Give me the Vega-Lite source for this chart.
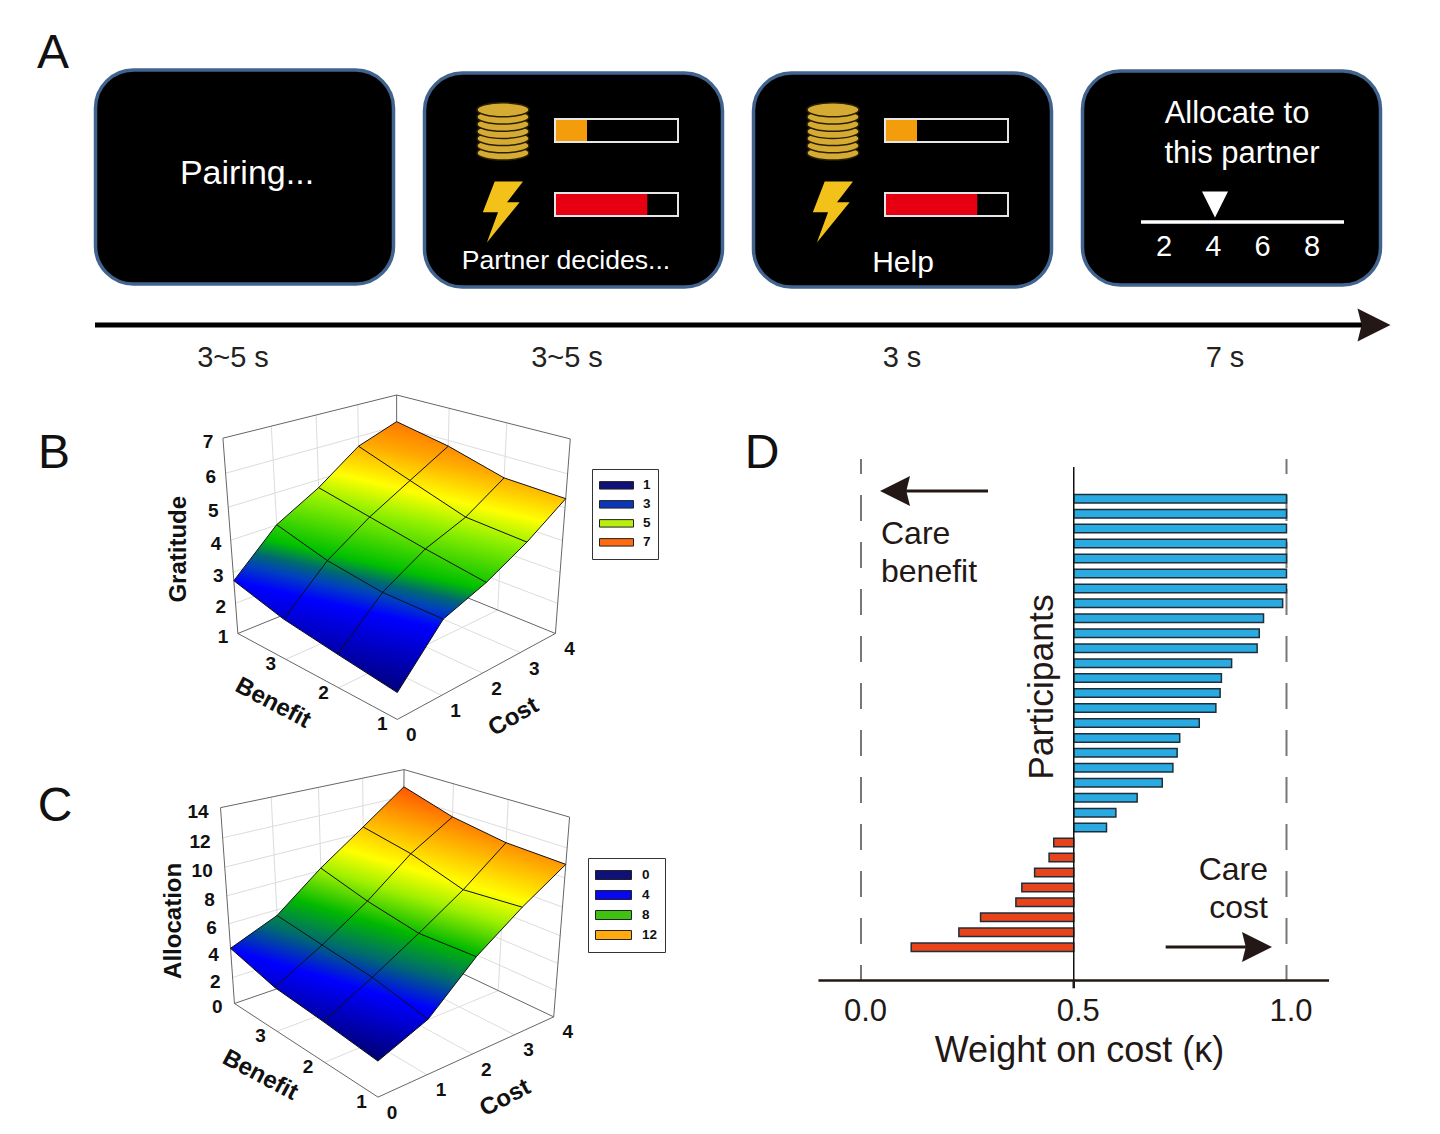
{"$schema":"https://vega.github.io/schema/vega-lite/v6.json","width":1440,"height":1134,"autosize":{"type":"fit","contains":"padding"},"padding":0,"background":"white","config":{"view":{"stroke":null},"text":{"font":"Liberation Sans"}},
"datasets":{
"screens":[{"stage":1,"duration":"3~5 s"},{"stage":2,"duration":"3~5 s"},{"stage":3,"duration":"3 s"},{"stage":4,"duration":"7 s"}],
"captions":[{"id":0,"caption":"Pairing..."},{"id":1,"caption":"Partner decides..."},{"id":2,"caption":"Help"},{"id":3,"caption":"Allocate to"},{"id":4,"caption":"this partner"}],
"slider":[{"allocation":2,"chosen":false},{"allocation":4,"chosen":true},{"allocation":6,"chosen":false},{"allocation":8,"chosen":false}],
"bars":[{"stage":2,"bar":"reward","value":0.26},{"stage":2,"bar":"cost","value":0.75},{"stage":3,"bar":"reward","value":0.26},{"stage":3,"bar":"cost","value":0.75}],
"coins":[{"stage":2,"coin":1},{"stage":2,"coin":2},{"stage":2,"coin":3},{"stage":2,"coin":4},{"stage":2,"coin":5},{"stage":2,"coin":6},{"stage":2,"coin":7},{"stage":3,"coin":1},{"stage":3,"coin":2},{"stage":3,"coin":3},{"stage":3,"coin":4},{"stage":3,"coin":5},{"stage":3,"coin":6},{"stage":3,"coin":7}],
"letters":[{"id":0,"panel":"A"},{"id":1,"panel":"B"},{"id":2,"panel":"C"},{"id":3,"panel":"D"}],
"gratitude":[
{"benefit":1,"cost":0,"gratitude":1.80},{"benefit":1,"cost":1,"gratitude":3.28},{"benefit":1,"cost":2,"gratitude":3.77},{"benefit":1,"cost":3,"gratitude":4.44},{"benefit":1,"cost":4,"gratitude":5.27},
{"benefit":2,"cost":0,"gratitude":2.03},{"benefit":2,"cost":1,"gratitude":3.29},{"benefit":2,"cost":2,"gratitude":4.07},{"benefit":2,"cost":3,"gratitude":4.56},{"benefit":2,"cost":4,"gratitude":5.34},
{"benefit":3,"cost":0,"gratitude":2.28},{"benefit":3,"cost":1,"gratitude":3.54},{"benefit":3,"cost":2,"gratitude":4.41},{"benefit":3,"cost":3,"gratitude":5.12},{"benefit":3,"cost":4,"gratitude":5.82},
{"benefit":4,"cost":0,"gratitude":2.73},{"benefit":4,"cost":1,"gratitude":4.01},{"benefit":4,"cost":2,"gratitude":4.75},{"benefit":4,"cost":3,"gratitude":5.69},{"benefit":4,"cost":4,"gratitude":6.14}],
"allocation":[
{"benefit":1,"cost":0,"allocation":2.44},{"benefit":1,"cost":1,"allocation":3.83},{"benefit":1,"cost":2,"allocation":6.77},{"benefit":1,"cost":3,"allocation":8.99},{"benefit":1,"cost":4,"allocation":10.91},
{"benefit":2,"cost":0,"allocation":2.87},{"benefit":2,"cost":1,"allocation":4.66},{"benefit":2,"cost":2,"allocation":6.59},{"benefit":2,"cost":3,"allocation":8.63},{"benefit":2,"cost":4,"allocation":11.04},
{"benefit":3,"cost":0,"allocation":3.22},{"benefit":3,"cost":1,"allocation":5.11},{"benefit":3,"cost":2,"allocation":7.24},{"benefit":3,"cost":3,"allocation":9.76},{"benefit":3,"cost":4,"allocation":11.63},
{"benefit":4,"cost":0,"allocation":4.2},{"benefit":4,"cost":1,"allocation":5.58},{"benefit":4,"cost":2,"allocation":8.18},{"benefit":4,"cost":3,"allocation":10.43},{"benefit":4,"cost":4,"allocation":12.72}],
"boxB":[
{"kind":"grid","id":"z2","seq":0,"benefit":4,"cost":0,"level":2},{"kind":"grid","id":"z2","seq":1,"benefit":4,"cost":4,"level":2},{"kind":"grid","id":"z2","seq":2,"benefit":1,"cost":4,"level":2},
{"kind":"grid","id":"z3","seq":0,"benefit":4,"cost":0,"level":3},{"kind":"grid","id":"z3","seq":1,"benefit":4,"cost":4,"level":3},{"kind":"grid","id":"z3","seq":2,"benefit":1,"cost":4,"level":3},
{"kind":"grid","id":"z4","seq":0,"benefit":4,"cost":0,"level":4},{"kind":"grid","id":"z4","seq":1,"benefit":4,"cost":4,"level":4},{"kind":"grid","id":"z4","seq":2,"benefit":1,"cost":4,"level":4},
{"kind":"grid","id":"z5","seq":0,"benefit":4,"cost":0,"level":5},{"kind":"grid","id":"z5","seq":1,"benefit":4,"cost":4,"level":5},{"kind":"grid","id":"z5","seq":2,"benefit":1,"cost":4,"level":5},
{"kind":"grid","id":"z6","seq":0,"benefit":4,"cost":0,"level":6},{"kind":"grid","id":"z6","seq":1,"benefit":4,"cost":4,"level":6},{"kind":"grid","id":"z6","seq":2,"benefit":1,"cost":4,"level":6},
{"kind":"grid","id":"c1","seq":0,"benefit":1,"cost":1,"level":1},{"kind":"grid","id":"c1","seq":1,"benefit":4,"cost":1,"level":1},{"kind":"grid","id":"c1","seq":2,"benefit":4,"cost":1,"level":7},
{"kind":"grid","id":"c2","seq":0,"benefit":1,"cost":2,"level":1},{"kind":"grid","id":"c2","seq":1,"benefit":4,"cost":2,"level":1},{"kind":"grid","id":"c2","seq":2,"benefit":4,"cost":2,"level":7},
{"kind":"grid","id":"c3","seq":0,"benefit":1,"cost":3,"level":1},{"kind":"grid","id":"c3","seq":1,"benefit":4,"cost":3,"level":1},{"kind":"grid","id":"c3","seq":2,"benefit":4,"cost":3,"level":7},
{"kind":"grid","id":"b2","seq":0,"benefit":2,"cost":0,"level":1},{"kind":"grid","id":"b2","seq":1,"benefit":2,"cost":4,"level":1},{"kind":"grid","id":"b2","seq":2,"benefit":2,"cost":4,"level":7},
{"kind":"grid","id":"b3","seq":0,"benefit":3,"cost":0,"level":1},{"kind":"grid","id":"b3","seq":1,"benefit":3,"cost":4,"level":1},{"kind":"grid","id":"b3","seq":2,"benefit":3,"cost":4,"level":7},
{"kind":"frame","id":"front","seq":0,"benefit":4,"cost":0,"level":1},{"kind":"frame","id":"front","seq":1,"benefit":1,"cost":0,"level":1},{"kind":"frame","id":"front","seq":2,"benefit":1,"cost":4,"level":1},
{"kind":"frame","id":"back","seq":0,"benefit":4,"cost":0,"level":1},{"kind":"frame","id":"back","seq":1,"benefit":4,"cost":4,"level":1},{"kind":"frame","id":"back","seq":2,"benefit":1,"cost":4,"level":1},
{"kind":"frame","id":"top","seq":0,"benefit":4,"cost":0,"level":7},{"kind":"frame","id":"top","seq":1,"benefit":4,"cost":4,"level":7},{"kind":"frame","id":"top","seq":2,"benefit":1,"cost":4,"level":7},
{"kind":"frame","id":"left","seq":0,"benefit":4,"cost":0,"level":1},{"kind":"frame","id":"left","seq":1,"benefit":4,"cost":0,"level":7},
{"kind":"frame","id":"rear","seq":0,"benefit":4,"cost":4,"level":1},{"kind":"frame","id":"rear","seq":1,"benefit":4,"cost":4,"level":7},
{"kind":"frame","id":"right","seq":0,"benefit":1,"cost":4,"level":1},{"kind":"frame","id":"right","seq":1,"benefit":1,"cost":4,"level":7}],
"boxC":[
{"kind":"grid","id":"z2","seq":0,"benefit":4,"cost":0,"level":2},{"kind":"grid","id":"z2","seq":1,"benefit":4,"cost":4,"level":2},{"kind":"grid","id":"z2","seq":2,"benefit":1,"cost":4,"level":2},
{"kind":"grid","id":"z4","seq":0,"benefit":4,"cost":0,"level":4},{"kind":"grid","id":"z4","seq":1,"benefit":4,"cost":4,"level":4},{"kind":"grid","id":"z4","seq":2,"benefit":1,"cost":4,"level":4},
{"kind":"grid","id":"z6","seq":0,"benefit":4,"cost":0,"level":6},{"kind":"grid","id":"z6","seq":1,"benefit":4,"cost":4,"level":6},{"kind":"grid","id":"z6","seq":2,"benefit":1,"cost":4,"level":6},
{"kind":"grid","id":"z8","seq":0,"benefit":4,"cost":0,"level":8},{"kind":"grid","id":"z8","seq":1,"benefit":4,"cost":4,"level":8},{"kind":"grid","id":"z8","seq":2,"benefit":1,"cost":4,"level":8},
{"kind":"grid","id":"z10","seq":0,"benefit":4,"cost":0,"level":10},{"kind":"grid","id":"z10","seq":1,"benefit":4,"cost":4,"level":10},{"kind":"grid","id":"z10","seq":2,"benefit":1,"cost":4,"level":10},
{"kind":"grid","id":"z12","seq":0,"benefit":4,"cost":0,"level":12},{"kind":"grid","id":"z12","seq":1,"benefit":4,"cost":4,"level":12},{"kind":"grid","id":"z12","seq":2,"benefit":1,"cost":4,"level":12},
{"kind":"grid","id":"c1","seq":0,"benefit":1,"cost":1,"level":0},{"kind":"grid","id":"c1","seq":1,"benefit":4,"cost":1,"level":0},{"kind":"grid","id":"c1","seq":2,"benefit":4,"cost":1,"level":14},
{"kind":"grid","id":"c2","seq":0,"benefit":1,"cost":2,"level":0},{"kind":"grid","id":"c2","seq":1,"benefit":4,"cost":2,"level":0},{"kind":"grid","id":"c2","seq":2,"benefit":4,"cost":2,"level":14},
{"kind":"grid","id":"c3","seq":0,"benefit":1,"cost":3,"level":0},{"kind":"grid","id":"c3","seq":1,"benefit":4,"cost":3,"level":0},{"kind":"grid","id":"c3","seq":2,"benefit":4,"cost":3,"level":14},
{"kind":"grid","id":"b2","seq":0,"benefit":2,"cost":0,"level":0},{"kind":"grid","id":"b2","seq":1,"benefit":2,"cost":4,"level":0},{"kind":"grid","id":"b2","seq":2,"benefit":2,"cost":4,"level":14},
{"kind":"grid","id":"b3","seq":0,"benefit":3,"cost":0,"level":0},{"kind":"grid","id":"b3","seq":1,"benefit":3,"cost":4,"level":0},{"kind":"grid","id":"b3","seq":2,"benefit":3,"cost":4,"level":14},
{"kind":"frame","id":"front","seq":0,"benefit":4,"cost":0,"level":0},{"kind":"frame","id":"front","seq":1,"benefit":1,"cost":0,"level":0},{"kind":"frame","id":"front","seq":2,"benefit":1,"cost":4,"level":0},
{"kind":"frame","id":"back","seq":0,"benefit":4,"cost":0,"level":0},{"kind":"frame","id":"back","seq":1,"benefit":4,"cost":4,"level":0},{"kind":"frame","id":"back","seq":2,"benefit":1,"cost":4,"level":0},
{"kind":"frame","id":"top","seq":0,"benefit":4,"cost":0,"level":14},{"kind":"frame","id":"top","seq":1,"benefit":4,"cost":4,"level":14},{"kind":"frame","id":"top","seq":2,"benefit":1,"cost":4,"level":14},
{"kind":"frame","id":"left","seq":0,"benefit":4,"cost":0,"level":0},{"kind":"frame","id":"left","seq":1,"benefit":4,"cost":0,"level":14},
{"kind":"frame","id":"rear","seq":0,"benefit":4,"cost":4,"level":0},{"kind":"frame","id":"rear","seq":1,"benefit":4,"cost":4,"level":14},
{"kind":"frame","id":"right","seq":0,"benefit":1,"cost":4,"level":0},{"kind":"frame","id":"right","seq":1,"benefit":1,"cost":4,"level":14}],
"ticksB":[
{"axis":"z","label":"1","benefit":4,"cost":0,"level":1},{"axis":"z","label":"2","benefit":4,"cost":0,"level":2},{"axis":"z","label":"3","benefit":4,"cost":0,"level":3},{"axis":"z","label":"4","benefit":4,"cost":0,"level":4},{"axis":"z","label":"5","benefit":4,"cost":0,"level":5},{"axis":"z","label":"6","benefit":4,"cost":0,"level":6},{"axis":"z","label":"7","benefit":4,"cost":0,"level":7},
{"axis":"b","label":"1","benefit":1,"cost":0,"level":1},{"axis":"b","label":"2","benefit":2,"cost":0,"level":1},{"axis":"b","label":"3","benefit":3,"cost":0,"level":1},
{"axis":"c","label":"0","benefit":1,"cost":0,"level":1},{"axis":"c","label":"1","benefit":1,"cost":1,"level":1},{"axis":"c","label":"2","benefit":1,"cost":2,"level":1},{"axis":"c","label":"3","benefit":1,"cost":3,"level":1},{"axis":"c","label":"4","benefit":1,"cost":4,"level":1},
{"axis":"tz","label":"Gratitude","benefit":4,"cost":0,"level":4},{"axis":"tb","label":"Benefit","benefit":2.5,"cost":0,"level":1},{"axis":"tc","label":"Cost","benefit":1,"cost":2,"level":1}],
"ticksC":[
{"axis":"z","label":"0","benefit":4,"cost":0,"level":0},{"axis":"z","label":"2","benefit":4,"cost":0,"level":2},{"axis":"z","label":"4","benefit":4,"cost":0,"level":4},{"axis":"z","label":"6","benefit":4,"cost":0,"level":6},{"axis":"z","label":"8","benefit":4,"cost":0,"level":8},{"axis":"z","label":"10","benefit":4,"cost":0,"level":10},{"axis":"z","label":"12","benefit":4,"cost":0,"level":12},{"axis":"z","label":"14","benefit":4,"cost":0,"level":14},
{"axis":"b","label":"1","benefit":1,"cost":0,"level":0},{"axis":"b","label":"2","benefit":2,"cost":0,"level":0},{"axis":"b","label":"3","benefit":3,"cost":0,"level":0},
{"axis":"c","label":"0","benefit":1,"cost":0,"level":0},{"axis":"c","label":"1","benefit":1,"cost":1,"level":0},{"axis":"c","label":"2","benefit":1,"cost":2,"level":0},{"axis":"c","label":"3","benefit":1,"cost":3,"level":0},{"axis":"c","label":"4","benefit":1,"cost":4,"level":0},
{"axis":"tz","label":"Allocation","benefit":4,"cost":0,"level":7},{"axis":"tb","label":"Benefit","benefit":2.5,"cost":0,"level":0},{"axis":"tc","label":"Cost","benefit":1,"cost":2,"level":0}],
"participants":[
{"participant":1,"weight":1.0,"cares":"cost"},{"participant":2,"weight":1.0,"cares":"cost"},{"participant":3,"weight":1.0,"cares":"cost"},{"participant":4,"weight":1.0,"cares":"cost"},{"participant":5,"weight":1.0,"cares":"cost"},{"participant":6,"weight":1.0,"cares":"cost"},{"participant":7,"weight":1.0,"cares":"cost"},{"participant":8,"weight":0.991,"cares":"cost"},{"participant":9,"weight":0.946,"cares":"cost"},{"participant":10,"weight":0.936,"cares":"cost"},{"participant":11,"weight":0.931,"cares":"cost"},{"participant":12,"weight":0.871,"cares":"cost"},{"participant":13,"weight":0.847,"cares":"cost"},{"participant":14,"weight":0.844,"cares":"cost"},{"participant":15,"weight":0.834,"cares":"cost"},{"participant":16,"weight":0.795,"cares":"cost"},{"participant":17,"weight":0.749,"cares":"cost"},{"participant":18,"weight":0.743,"cares":"cost"},{"participant":19,"weight":0.733,"cares":"cost"},{"participant":20,"weight":0.708,"cares":"cost"},{"participant":21,"weight":0.649,"cares":"cost"},{"participant":22,"weight":0.599,"cares":"cost"},{"participant":23,"weight":0.577,"cares":"cost"},{"participant":24,"weight":0.453,"cares":"benefit"},{"participant":25,"weight":0.442,"cares":"benefit"},{"participant":26,"weight":0.408,"cares":"benefit"},{"participant":27,"weight":0.378,"cares":"benefit"},{"participant":28,"weight":0.364,"cares":"benefit"},{"participant":29,"weight":0.281,"cares":"benefit"},{"participant":30,"weight":0.23,"cares":"benefit"},{"participant":31,"weight":0.118,"cares":"benefit"}]
},
"resolve":{"scale":{"x":"independent","y":"independent","color":"independent"}},
"layer":[
{"encoding":{"x":{"field":"sx","type":"quantitative","scale":{"domain":[0,1440],"nice":false},"axis":null},"y":{"field":"sy","type":"quantitative","scale":{"domain":[1134,0],"nice":false},"axis":null}},
"layer":[
{"data":{"name":"screens"},"transform":[{"calculate":"95.5+(datum.stage-1)*329","as":"sx"},{"calculate":"datum.sx+298","as":"sx2"},{"calculate":"[70,73,73,71][datum.stage-1]","as":"sy"},{"calculate":"datum.sy+214","as":"sy2"}],"mark":{"type":"rect","fill":"black","stroke":"#41648f","strokeWidth":3.5,"cornerRadius":38},"encoding":{"x2":{"field":"sx2"},"y2":{"field":"sy2"}}},
{"data":{"name":"captions"},"transform":[{"calculate":"[247,566,903,1237,1242][datum.id]","as":"sx"},{"calculate":"[174,261,263,114,154][datum.id]","as":"sy"},{"calculate":"[34,26.6,30,31,31][datum.id]","as":"fs"}],"mark":{"type":"text","fill":"white","baseline":"middle","align":"center"},"encoding":{"text":{"field":"caption"},"size":{"field":"fs","type":"quantitative","scale":null}}},
{"data":{"name":"screens"},"transform":[{"calculate":"[233,567,902,1225][datum.stage-1]","as":"sx"},{"calculate":"358","as":"sy"}],"mark":{"type":"text","fontSize":29,"fill":"#222","baseline":"middle","align":"center"},"encoding":{"text":{"field":"duration"}}},
{"data":{"name":"letters"},"transform":[{"calculate":"[53,54,55,762][datum.id]","as":"sx"},{"calculate":"[54,454,807,454][datum.id]","as":"sy"}],"mark":{"type":"text","fontSize":48,"fill":"#111","baseline":"middle","align":"center"},"encoding":{"text":{"field":"panel"}}},
{"data":{"name":"slider"},"transform":[{"calculate":"1164+(datum.allocation-2)*24.67","as":"sx"},{"calculate":"247","as":"sy"}],"mark":{"type":"text","fontSize":29,"fill":"white","baseline":"middle","align":"center"},"encoding":{"text":{"field":"allocation"}}},
{"data":{"name":"slider"},"transform":[{"filter":"datum.chosen"},{"calculate":"1164+(datum.allocation-2)*25.5","as":"sx"},{"calculate":"204.5","as":"sy"}],"mark":{"type":"point","filled":true,"fill":"white","opacity":1,"shape":"M-1,-1H1L0,1Z","size":676}},
{"data":{"values":[{"scale":"allocation"}]},"transform":[{"calculate":"1141","as":"sx"},{"calculate":"1344","as":"sx2"},{"calculate":"222","as":"sy"}],"mark":{"type":"rule","stroke":"white","strokeWidth":3.5},"encoding":{"x2":{"field":"sx2"}}},
{"data":{"name":"bars"},"transform":[{"calculate":"555+(datum.stage-2)*330","as":"sx"},{"calculate":"datum.sx+123*datum.value","as":"sx2"},{"calculate":"datum.bar=='reward'?119:193","as":"sy"},{"calculate":"datum.sy+23","as":"sy2"}],"mark":{"type":"rect"},"encoding":{"x2":{"field":"sx2"},"y2":{"field":"sy2"},"color":{"field":"bar","type":"nominal","scale":{"domain":["reward","cost"],"range":["#f39c0c","#e60012"]},"legend":null}}},
{"data":{"name":"bars"},"transform":[{"calculate":"555+(datum.stage-2)*330","as":"sx"},{"calculate":"datum.sx+123","as":"sx2"},{"calculate":"datum.bar=='reward'?119:193","as":"sy"},{"calculate":"datum.sy+23","as":"sy2"}],"mark":{"type":"rect","fill":null,"stroke":"#e6e6e6","strokeWidth":2},"encoding":{"x2":{"field":"sx2"},"y2":{"field":"sy2"}}},
{"data":{"name":"coins"},"transform":[{"calculate":"503+(datum.stage-2)*330","as":"sx"},{"calculate":"153-(datum.coin-1)*7.2","as":"sy"}],"mark":{"type":"point","filled":true,"fill":"#d6ab33","stroke":"#2a2000","strokeWidth":1.5,"opacity":1,"shape":"M-1,0A1,0.27 0 1,1 1,0A1,0.27 0 1,1 -1,0Z","size":2704}},
{"data":{"values":[{"stage":2},{"stage":3}]},"transform":[{"calculate":"502+(datum.stage-2)*330","as":"sx"},{"calculate":"212","as":"sy"}],"mark":{"type":"point","filled":true,"fill":"#f2c21a","opacity":1,"shape":"M-0.24,-1L0.69,-1L0.165,-0.32L0.58,-0.32L-0.495,1L-0.13,0.01L-0.63,0.01Z","size":3700}},
{"data":{"values":[{"scale":"time"}]},"transform":[{"calculate":"95","as":"sx"},{"calculate":"1370","as":"sx2"},{"calculate":"325","as":"sy"}],"mark":{"type":"rule","stroke":"black","strokeWidth":5},"encoding":{"x2":{"field":"sx2"}}},
{"data":{"values":[{"scale":"time"}]},"transform":[{"calculate":"1374","as":"sx"},{"calculate":"325","as":"sy"}],"mark":{"type":"point","filled":true,"fill":"#231815","opacity":1,"shape":"M-1,-1L1,0L-1,1L-0.75,0Z","size":1089}}
]},
{"encoding":{"x":{"field":"sx","type":"quantitative","scale":{"domain":[0,1440],"nice":false},"axis":null},"y":{"field":"sy","type":"quantitative","scale":{"domain":[1134,0],"nice":false},"axis":null}},
"layer":[
{"data":{"name":"boxB"},"transform":[{"calculate":"datum.cost/4","as":"u"},{"calculate":"(datum.benefit-1)/3","as":"v"},{"calculate":"(datum.level-1)/6","as":"w"},{"calculate":"1+0.1679*datum.u+0.1637*datum.v-0.1*datum.w","as":"den"},{"calculate":"150+(669.5*datum.u-429.4*datum.v+732-73*datum.w)/datum.den/2.96","as":"sx"},{"calculate":"390+(-134.8*datum.u-137.8*datum.v+985-694*datum.w)/datum.den/2.99","as":"sy"}],
"encoding":{"detail":{"field":"id"},"order":{"field":"seq"}},
"layer":[
{"transform":[{"filter":"datum.kind=='grid'"}],"mark":{"type":"line","stroke":"#dcdcdc","strokeWidth":1}},
{"transform":[{"filter":"datum.kind=='frame'"}],"mark":{"type":"line","stroke":"#666666","strokeWidth":1}}
]},
{"data":{"name":"gratitude"},"transform":[{"calculate":"datum.gratitude","as":"level"},{"calculate":"datum.cost/4","as":"u"},{"calculate":"(datum.benefit-1)/3","as":"v"},{"calculate":"(datum.level-1)/6","as":"w"},{"calculate":"1+0.1679*datum.u+0.1637*datum.v-0.1*datum.w","as":"den"},{"calculate":"150+(669.5*datum.u-429.4*datum.v+732-73*datum.w)/datum.den/2.96","as":"sx"},{"calculate":"390+(-134.8*datum.u-137.8*datum.v+985-694*datum.w)/datum.den/2.99","as":"sy"},{"calculate":"datum.cost==0?datum.benefit-1:datum.benefit==4?3+datum.cost:datum.cost==4?7+(4-datum.benefit):datum.benefit==1?10+(4-datum.cost):-1","as":"ring"}],
"layer":[
{"transform":[{"filter":"datum.ring>=0"}],"mark":{"type":"line","stroke":null,"fill":{"gradient":"linear","x1":-0.274,"y1":0.968,"x2":0.088,"y2":-0.312,"stops":[{"offset":0,"color":"#000050"},{"offset":0.13,"color":"#00007a"},{"offset":0.26,"color":"#0000d0"},{"offset":0.33,"color":"#0000ff"},{"offset":0.38,"color":"#0040c0"},{"offset":0.417,"color":"#006a70"},{"offset":0.463,"color":"#00c000"},{"offset":0.6,"color":"#90f000"},{"offset":0.68,"color":"#ffff00"},{"offset":0.78,"color":"#ffa800"},{"offset":0.87,"color":"#ff7000"},{"offset":1,"color":"#ff4000"}]}},"encoding":{"order":{"field":"ring"}}},
{"mark":{"type":"line","stroke":"#111","strokeWidth":1},"encoding":{"detail":{"field":"cost"},"order":{"field":"benefit"}}},
{"mark":{"type":"line","stroke":"#111","strokeWidth":1},"encoding":{"detail":{"field":"benefit"},"order":{"field":"cost"}}}
]},
{"data":{"name":"ticksB"},"transform":[{"calculate":"datum.cost/4","as":"u"},{"calculate":"(datum.benefit-1)/3","as":"v"},{"calculate":"(datum.level-1)/6","as":"w"},{"calculate":"1+0.1679*datum.u+0.1637*datum.v-0.1*datum.w","as":"den"},{"calculate":"150+(669.5*datum.u-429.4*datum.v+732-73*datum.w)/datum.den/2.96+({z:-9.5,b:-15,c:14,tz:-52,tb:-38.5,tc:31})[datum.axis]","as":"sx"},{"calculate":"390+(-134.8*datum.u-137.8*datum.v+985-694*datum.w)/datum.den/2.99+({z:4,b:5,c:16,tz:9,tb:30,tc:44})[datum.axis]","as":"sy"},{"calculate":"({tz:270,tb:28,tc:330})[datum.axis]||0","as":"ang"},{"calculate":"length(datum.axis)==2?24:19","as":"fs"}],
"layer":[
{"transform":[{"filter":"datum.axis=='z'"}],"mark":{"type":"text","fontWeight":"bold","fontSize":19,"fill":"#111","align":"right","baseline":"middle"},"encoding":{"text":{"field":"label"}}},
{"transform":[{"filter":"datum.axis!='z'"}],"mark":{"type":"text","fontWeight":"bold","fill":"#111","align":"center","baseline":"middle"},"encoding":{"text":{"field":"label"},"size":{"field":"fs","type":"quantitative","scale":null},"angle":{"field":"ang","type":"quantitative","scale":null}}}
]},
{"data":{"values":[{"rating":"1"},{"rating":"3"},{"rating":"5"},{"rating":"7"}]},"transform":[{"calculate":"600","as":"sx"},{"calculate":"500","as":"sy"}],"mark":{"type":"point","filled":true,"size":0,"opacity":1},"encoding":{"color":{"field":"rating","type":"ordinal","scale":{"domain":["1","3","5","7"],"range":["#10107a","#0a36b8","#b8ee10","#ff6a10"]},"legend":{"orient":"none","legendX":592,"legendY":469,"title":null,"padding":7,"fillColor":"white","strokeColor":"#333","symbolType":"M-1,-0.22H1V0.22H-1Z","symbolSize":1156,"symbolStrokeColor":"#222","symbolStrokeWidth":1,"symbolOpacity":1,"clipHeight":18.7,"labelFont":"Liberation Sans","labelFontWeight":"bold","labelFontSize":13.5,"labelColor":"#111","labelOffset":9,"rowPadding":0,"labelExpr":"datum.label+'   '"}}}}
]},
{"encoding":{"x":{"field":"sx","type":"quantitative","scale":{"domain":[0,1440],"nice":false},"axis":null},"y":{"field":"sy","type":"quantitative","scale":{"domain":[1134,0],"nice":false},"axis":null}},
"layer":[
{"data":{"name":"boxC"},"transform":[{"calculate":"datum.cost/4","as":"u"},{"calculate":"(datum.benefit-1)/3","as":"v"},{"calculate":"datum.level/14","as":"w"},{"calculate":"1+0.1575*datum.u+0.1856*datum.v-0.1*datum.w","as":"den"},{"calculate":"150+(708.2*datum.u-378.6*datum.v+675-69.8*datum.w)/datum.den/2.96","as":"sx"},{"calculate":"755+(-116.7*datum.u-142.1*datum.v+1023-710*datum.w)/datum.den/2.99","as":"sy"}],
"encoding":{"detail":{"field":"id"},"order":{"field":"seq"}},
"layer":[
{"transform":[{"filter":"datum.kind=='grid'"}],"mark":{"type":"line","stroke":"#dcdcdc","strokeWidth":1}},
{"transform":[{"filter":"datum.kind=='frame'"}],"mark":{"type":"line","stroke":"#666666","strokeWidth":1}}
]},
{"data":{"name":"allocation"},"transform":[{"calculate":"datum.allocation","as":"level"},{"calculate":"datum.cost/4","as":"u"},{"calculate":"(datum.benefit-1)/3","as":"v"},{"calculate":"datum.level/14","as":"w"},{"calculate":"1+0.1575*datum.u+0.1856*datum.v-0.1*datum.w","as":"den"},{"calculate":"150+(708.2*datum.u-378.6*datum.v+675-69.8*datum.w)/datum.den/2.96","as":"sx"},{"calculate":"755+(-116.7*datum.u-142.1*datum.v+1023-710*datum.w)/datum.den/2.99","as":"sy"},{"calculate":"datum.cost==0?datum.benefit-1:datum.benefit==4?3+datum.cost:datum.cost==4?7+(4-datum.benefit):datum.benefit==1?10+(4-datum.cost):-1","as":"ring"}],
"layer":[
{"transform":[{"filter":"datum.ring>=0"}],"mark":{"type":"line","stroke":null,"fill":{"gradient":"linear","x1":-0.346,"y1":0.962,"x2":0.1005,"y2":-0.279,"stops":[{"offset":0,"color":"#000050"},{"offset":0.17,"color":"#00006e"},{"offset":0.35,"color":"#0000ff"},{"offset":0.44,"color":"#006a70"},{"offset":0.53,"color":"#00b800"},{"offset":0.63,"color":"#a0f000"},{"offset":0.7,"color":"#ffff00"},{"offset":0.82,"color":"#ffa000"},{"offset":0.91,"color":"#ff5500"},{"offset":1,"color":"#ff4000"}]}},"encoding":{"order":{"field":"ring"}}},
{"mark":{"type":"line","stroke":"#111","strokeWidth":1},"encoding":{"detail":{"field":"cost"},"order":{"field":"benefit"}}},
{"mark":{"type":"line","stroke":"#111","strokeWidth":1},"encoding":{"detail":{"field":"benefit"},"order":{"field":"cost"}}}
]},
{"data":{"name":"ticksC"},"transform":[{"calculate":"datum.cost/4","as":"u"},{"calculate":"(datum.benefit-1)/3","as":"v"},{"calculate":"datum.level/14","as":"w"},{"calculate":"1+0.1575*datum.u+0.1856*datum.v-0.1*datum.w","as":"den"},{"calculate":"150+(708.2*datum.u-378.6*datum.v+675-69.8*datum.w)/datum.den/2.96+({z:-12,b:-16.5,c:14,tz:-54,tb:-40,tc:33})[datum.axis]","as":"sx"},{"calculate":"755+(-116.7*datum.u-142.1*datum.v+1023-710*datum.w)/datum.den/2.99+({z:4,b:4.5,c:15.5,tz:11,tb:29,tc:44})[datum.axis]","as":"sy"},{"calculate":"({tz:270,tb:28,tc:332})[datum.axis]||0","as":"ang"},{"calculate":"length(datum.axis)==2?24:19","as":"fs"}],
"layer":[
{"transform":[{"filter":"datum.axis=='z'"}],"mark":{"type":"text","fontWeight":"bold","fontSize":19,"fill":"#111","align":"right","baseline":"middle"},"encoding":{"text":{"field":"label"}}},
{"transform":[{"filter":"datum.axis!='z'"}],"mark":{"type":"text","fontWeight":"bold","fill":"#111","align":"center","baseline":"middle"},"encoding":{"text":{"field":"label"},"size":{"field":"fs","type":"quantitative","scale":null},"angle":{"field":"ang","type":"quantitative","scale":null}}}
]},
{"data":{"values":[{"rating":"0"},{"rating":"4"},{"rating":"8"},{"rating":"12"}]},"transform":[{"calculate":"600","as":"sx"},{"calculate":"900","as":"sy"}],"mark":{"type":"point","filled":true,"size":0,"opacity":1},"encoding":{"color":{"field":"rating","type":"ordinal","scale":{"domain":["0","4","8","12"],"range":["#10107a","#0808f0","#40c010","#ffaa10"]},"legend":{"orient":"none","legendX":588,"legendY":858,"title":null,"padding":7,"fillColor":"white","strokeColor":"#333","symbolType":"M-1,-0.25H1V0.25H-1Z","symbolSize":1296,"symbolStrokeColor":"#222","symbolStrokeWidth":1,"symbolOpacity":1,"clipHeight":20,"labelFont":"Liberation Sans","labelFontWeight":"bold","labelFontSize":13.5,"labelColor":"#111","labelOffset":10,"rowPadding":0,"labelExpr":"datum.label+'   '"}}}}
]},
{"encoding":{"x":{"field":"weight","type":"quantitative","scale":{"domain":[-2.0235,1.36075],"nice":false},"axis":{"values":[0,0.5,1],"format":".1f","offset":-153.5,"domain":false,"grid":false,"ticks":false,"labelFont":"Liberation Sans","labelFontSize":31,"labelColor":"#231815","labelPadding":16,"labelOffset":4,"title":"Weight on cost (κ)","titleFont":"Liberation Sans","titleFontSize":36,"titleFontWeight":"normal","titleColor":"#231815","titleX":1079,"titleY":70,"titleBaseline":"middle"}},"y":{"field":"participant","type":"quantitative","scale":{"domain":[43.495,-32.358],"nice":false,"padding":0},"axis":null}},
"layer":[
{"data":{"values":[{"weight":0,"participant":-1.66,"end":33.23},{"weight":1,"participant":-1.66,"end":33.23}]},"mark":{"type":"rule","stroke":"#777","strokeWidth":2,"strokeDash":[26,21],"strokeDashOffset":11},"encoding":{"y2":{"field":"end"}}},
{"data":{"name":"participants"},"transform":[{"calculate":"0.5","as":"indifferent"}],"mark":{"type":"bar","stroke":"#1f2f3a","strokeWidth":1.5},"encoding":{"x2":{"field":"indifferent"},"size":{"value":8.5},"color":{"field":"cares","type":"nominal","scale":{"domain":["cost","benefit"],"range":["#29abe2","#e8431a"]},"legend":null}}},
{"data":{"values":[{"weight":0.5,"participant":-1.12,"end":33.23}]},"mark":{"type":"rule","stroke":"#111","strokeWidth":1.5},"encoding":{"y2":{"field":"end"}}},
{"data":{"values":[{"weight":-0.1,"right":1.1,"participant":33.23}]},"mark":{"type":"rule","stroke":"#231815","strokeWidth":2.5},"encoding":{"x2":{"field":"right"}}},
{"data":{"values":[{"weight":0.5,"participant":33.23,"end":33.75}]},"mark":{"type":"rule","stroke":"#231815","strokeWidth":2.5},"encoding":{"y2":{"field":"end"}}},
{"data":{"values":[{"weight":0.2985,"participant":0.485,"direction":"benefit","head":0.08},{"weight":0.716,"participant":30.99,"direction":"cost","head":0.9307}]},"layer":[
{"mark":{"type":"rule","stroke":"#231815","strokeWidth":3},"encoding":{"x2":{"field":"head"}}},
{"mark":{"type":"point","filled":true,"fill":"#231815","opacity":1,"size":900},"encoding":{"x":{"field":"head","type":"quantitative"},"shape":{"field":"direction","type":"nominal","scale":{"domain":["benefit","cost"],"range":["M1,-1L-1,0L1,1L0.75,0Z","M-1,-1L1,0L-1,1L-0.75,0Z"]},"legend":null}}}
]},
{"data":{"values":[{"note":"Care","weight":0.047,"participant":3.36},{"note":"benefit","weight":0.047,"participant":5.9}]},"mark":{"type":"text","align":"left","baseline":"middle","fontSize":32,"fill":"#231815"},"encoding":{"text":{"field":"note"}}},
{"data":{"values":[{"note":"Care","weight":0.9565,"participant":25.84},{"note":"cost","weight":0.9565,"participant":28.37}]},"mark":{"type":"text","align":"right","baseline":"middle","fontSize":32,"fill":"#231815"},"encoding":{"text":{"field":"note"}}},
{"data":{"values":[{"note":"Participants","weight":0.425,"participant":13.6}]},"mark":{"type":"text","align":"center","baseline":"middle","fontSize":35.5,"angle":270,"fill":"#231815"},"encoding":{"text":{"field":"note"}}}
]}
]}
